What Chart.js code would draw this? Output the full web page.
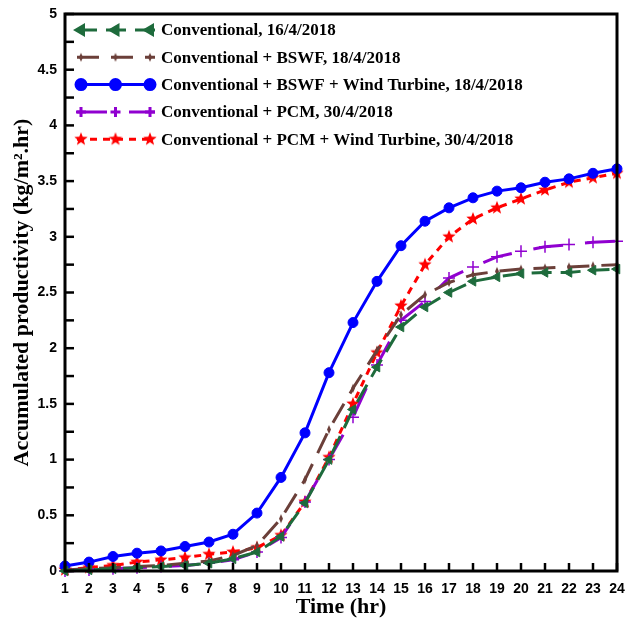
<!DOCTYPE html>
<html>
<head>
<meta charset="utf-8">
<script src="https://cdn.jsdelivr.net/npm/chart.js@4.4.1/dist/chart.umd.min.js"></script>
<style>
  body { margin: 0; background: #fff; }
  canvas { display: block; }
</style>
</head>
<body>
<canvas id="prod" width="627" height="624"></canvas>
<script>
// hours of the day
const hours = ["1","2","3","4","5","6","7","8","9","10","11","12","13","14","15","16","17","18","19","20","21","22","23","24"];

// accumulated productivity, kg/m2.hr
const conventional = [0.00,0.01,0.02,0.03,0.04,0.05,0.07,0.11,0.17,0.31,0.61,1.00,1.45,1.83,2.19,2.37,2.50,2.60,2.64,2.67,2.68,2.68,2.70,2.71];
const bswf = [0.01,0.02,0.03,0.04,0.05,0.07,0.09,0.14,0.23,0.47,0.82,1.27,1.64,1.98,2.30,2.48,2.59,2.66,2.69,2.71,2.72,2.73,2.74,2.75];
const bswfWind = [0.045,0.08,0.13,0.16,0.18,0.22,0.26,0.33,0.52,0.84,1.24,1.78,2.23,2.60,2.92,3.14,3.26,3.35,3.41,3.44,3.49,3.52,3.57,3.61];
const pcm = [0.00,0.01,0.02,0.03,0.04,0.05,0.07,0.10,0.17,0.30,0.62,1.00,1.38,1.85,2.25,2.42,2.63,2.73,2.82,2.87,2.91,2.93,2.95,2.96];
const pcmWind = [0.01,0.03,0.05,0.08,0.10,0.12,0.15,0.17,0.21,0.32,0.62,1.02,1.50,1.96,2.38,2.75,3.00,3.16,3.26,3.34,3.42,3.49,3.53,3.57];

const seriesNames = [
  "Conventional, 16/4/2018",
  "Conventional + BSWF, 18/4/2018",
  "Conventional + BSWF + Wind Turbine, 18/4/2018",
  "Conventional + PCM, 30/4/2018",
  "Conventional + PCM + Wind Turbine, 30/4/2018"
];

// filled five point star for the red series
function starImage(r, color) {
  const c = document.createElement("canvas");
  c.width = c.height = r * 2 + 2;
  const g = c.getContext("2d");
  g.fillStyle = color;
  g.beginPath();
  for (let i = 0; i < 10; i++) {
    const rad = i % 2 === 0 ? r : r * 0.42;
    const a = -Math.PI / 2 + i * Math.PI / 5;
    const px = r + 1 + rad * Math.cos(a), py = r + 1 + rad * Math.sin(a);
    if (i === 0) g.moveTo(px, py); else g.lineTo(px, py);
  }
  g.closePath();
  g.fill();
  return c;
}
// thin tall diamond for the brown series
function diamondImage(w, h, color) {
  const c = document.createElement("canvas");
  c.width = w + 2; c.height = h + 2;
  const g = c.getContext("2d");
  g.fillStyle = color;
  g.beginPath();
  g.moveTo(w / 2 + 1, 1); g.lineTo(w + 1, h / 2 + 1);
  g.lineTo(w / 2 + 1, h + 1); g.lineTo(1, h / 2 + 1);
  g.closePath(); g.fill();
  return c;
}

const green = "#1e6b3c", brown = "#6b3f39", blue = "#0000ff", purple = "#9000d0", red = "#ff0000";

const datasets = [
  { label: seriesNames[0], data: conventional, borderColor: green, backgroundColor: green,
    borderWidth: 3, borderDash: [20, 9], pointStyle: "triangle", pointRotation: -90, pointRadius: 5.5, pointBorderWidth: 1 },
  { label: seriesNames[1], data: bswf, borderColor: brown, backgroundColor: brown,
    borderWidth: 3, borderDash: [22, 12], pointStyle: diamondImage(4, 9, brown), pointRadius: 5 },
  { label: seriesNames[2], data: bswfWind, borderColor: blue, backgroundColor: blue,
    borderWidth: 3, pointStyle: "circle", pointRadius: 5, pointBorderWidth: 1 },
  { label: seriesNames[3], data: pcm, borderColor: purple, backgroundColor: purple,
    borderWidth: 3, borderDash: [30, 22], pointStyle: "cross", pointRadius: 6, pointBorderWidth: 1.5 },
  { label: seriesNames[4], data: pcmWind, borderColor: red, backgroundColor: red,
    borderWidth: 3, borderDash: [7, 6], pointStyle: starImage(7, red), pointRadius: 7 }
];
datasets.forEach(d => { d.fill = false; d.tension = 0; d.clip = false; });

// inward ticks, frame and the origin-style legend
const decorations = {
  id: "decorations",
  afterDraw(chart) {
    const ctx = chart.ctx, a = chart.chartArea;
    const xs = chart.scales.x, ys = chart.scales.y;
    ctx.save();
    ctx.strokeStyle = "#000";
    ctx.lineWidth = 2.5;
    xs.ticks.forEach((t, i) => {
      const px = xs.getPixelForTick(i);
      ctx.beginPath(); ctx.moveTo(px, a.bottom); ctx.lineTo(px, a.bottom - 8); ctx.stroke();
    });
    ys.ticks.forEach((t, i) => {
      const py = ys.getPixelForTick(i);
      ctx.beginPath(); ctx.moveTo(a.left, py); ctx.lineTo(a.left + 9, py); ctx.stroke();
    });
    ctx.lineWidth = 3;
    ctx.strokeRect(a.left, a.top, a.right - a.left, a.bottom - a.top);

    // legend
    const x0 = 77, x1 = 155, rowTop = 30, rowStep = 27.3;
    const marks = [81, 115.5, 150];
    ctx.font = "bold 17px 'Liberation Serif', 'Times New Roman', serif";
    ctx.textBaseline = "middle";
    chart.data.datasets.forEach((d, i) => {
      const y = rowTop + i * rowStep;
      ctx.strokeStyle = d.borderColor;
      ctx.fillStyle = d.backgroundColor;
      ctx.lineWidth = d.borderWidth;
      ctx.setLineDash(d.borderDash || []);
      ctx.beginPath(); ctx.moveTo(x0, y); ctx.lineTo(x1, y); ctx.stroke();
      ctx.setLineDash([]);
      marks.forEach(mx => {
        Chart.helpers.drawPoint(ctx, {
          pointStyle: d.pointStyle, radius: Math.min(d.pointRadius, 5),
          rotation: d.pointRotation || 0, borderWidth: d.pointBorderWidth || 1
        }, mx, y);
      });
      ctx.fillStyle = "#000";
      ctx.fillText(d.label, 161, y + 1);
    });
    ctx.restore();
  }
};

new Chart(document.getElementById("prod"), {
  type: "line",
  data: { labels: hours, datasets: datasets },
  options: {
    responsive: false,
    animation: false,
    layout: { padding: { top: 14, right: 5, left: 0, bottom: 0 } },
    plugins: { legend: { display: false }, tooltip: { enabled: false } },
    scales: {
      x: {
        offset: false,
        grid: { display: false, drawTicks: false },
        border: { display: false },
        ticks: { color: "#000", padding: 10, maxRotation: 0, autoSkip: false,
                 font: { family: "'Liberation Sans', Arial, sans-serif", size: 14, weight: "bold" } },
        title: { display: true, text: "Time (hr)", color: "#000", padding: { top: 0, bottom: 3 },
                 font: { family: "'Liberation Serif', 'Times New Roman', serif", size: 22, weight: "bold" } },
        afterFit(s) { s.height = 53; s.paddingLeft = 0; s.paddingRight = 0; }
      },
      y: {
        min: 0, max: 5,
        grid: { display: false, drawTicks: false },
        border: { display: false },
        ticks: { stepSize: 0.25, color: "#000", padding: 8,
                 font: { family: "'Liberation Sans', Arial, sans-serif", size: 14, weight: "bold" },
                 callback: v => (Math.abs(v * 2 - Math.round(v * 2)) < 1e-6 ? String(v) : "") },
        title: { display: true, text: "Accumulated productivity (kg/m\u00B2.hr)", color: "#000",
                 padding: { top: 9, bottom: 0 },
                 font: { family: "'Liberation Serif', 'Times New Roman', serif", size: 22, weight: "bold" } },
        afterFit(s) { s.width = 65; s.paddingTop = 0; s.paddingBottom = 0; }
      }
    }
  },
  plugins: [decorations]
});
</script>
</body>
</html>
